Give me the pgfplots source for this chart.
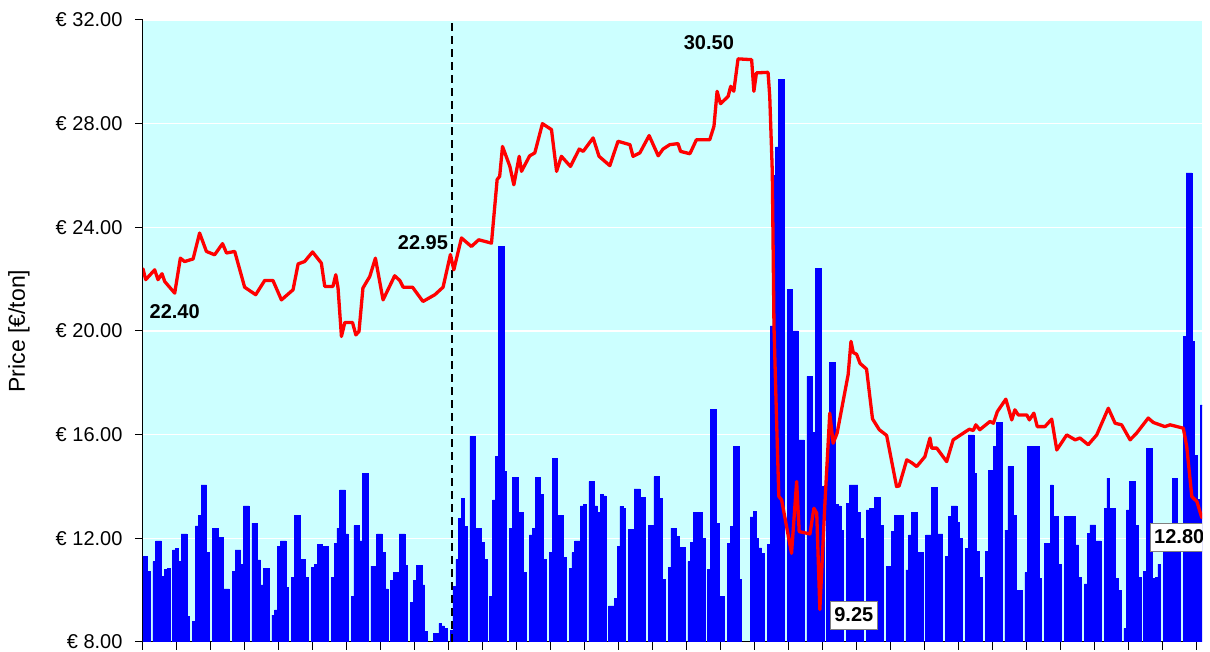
\documentclass[border=0pt]{standalone}
\usepackage{fontspec}
\setmainfont{Liberation Sans}
\usepackage{pgfplots}
\usepackage{pgfplotstable}
\pgfplotsset{compat=1.18}
\definecolor{bgcyan}{RGB}{204,255,255}
\definecolor{barblue}{RGB}{0,0,255}
\definecolor{linered}{RGB}{255,0,0}

\pgfplotstableread{
d v
0 11.30
1 11.30
2 10.72
4 11.10
5 11.90
6 11.90
7 10.52
8 10.81
9 10.84
11 11.55
12 11.62
13 11.10
14 12.17
15 12.17
16 8.98
18 8.79
19 12.48
20 12.87
21 14.06
22 14.06
23 11.45
25 12.39
26 12.39
27 12.04
28 12.04
29 10.05
30 10.05
32 10.72
33 11.55
34 11.55
35 11.00
36 13.25
37 13.25
39 12.59
40 12.59
41 11.17
42 10.20
43 10.84
44 10.84
46 9.04
47 9.24
48 11.68
49 11.90
50 11.90
51 10.11
53 10.48
54 12.87
55 12.87
56 11.19
57 11.19
58 10.48
60 10.87
61 11.00
62 11.78
63 11.78
64 11.68
65 11.68
67 10.48
68 11.81
69 12.39
70 13.87
71 13.87
72 12.17
74 9.75
75 12.49
76 12.49
77 11.90
78 14.49
79 14.49
81 10.93
82 10.93
83 12.17
84 12.17
85 11.45
86 10.05
88 10.39
89 10.69
90 10.69
91 12.17
92 12.17
93 10.95
95 9.52
96 10.39
97 10.95
98 10.95
99 10.20
100 8.40
103 8.33
104 8.33
105 8.72
106 8.62
107 8.53
109 8.46
110 10.16
111 11.19
112 12.77
113 13.55
114 12.45
116 15.93
117 15.93
118 12.39
119 12.39
120 11.84
121 11.19
123 9.75
124 13.48
125 15.16
126 23.25
127 23.25
128 14.58
130 12.39
131 14.36
132 14.36
133 13.00
134 13.00
135 10.69
137 12.13
138 12.39
139 14.36
140 14.36
141 13.68
142 11.19
144 11.46
145 15.07
146 15.07
147 12.88
148 12.88
149 11.26
151 10.84
152 11.45
153 11.90
154 11.90
155 13.25
156 13.32
158 14.19
159 14.19
160 13.25
161 13.00
162 13.71
163 13.64
165 9.39
166 9.39
167 9.69
168 11.68
169 13.23
170 13.16
172 12.35
173 12.35
174 13.91
175 13.91
176 13.59
177 13.59
179 12.49
180 12.49
181 14.38
182 14.38
183 13.55
184 10.42
186 10.88
187 12.39
188 12.39
189 12.07
190 11.66
191 11.66
193 11.10
194 11.84
195 13.00
196 13.00
197 13.00
198 12.00
200 10.81
201 16.96
202 16.96
203 12.59
204 9.75
205 9.75
207 11.81
208 12.45
209 15.54
210 15.54
211 10.42
215 12.83
216 13.05
217 12.00
218 11.63
219 11.43
221 11.76
222 20.20
223 26.00
224 27.10
225 29.70
226 29.70
228 21.60
229 21.60
230 20.00
231 20.00
232 15.80
233 15.80
235 18.25
236 18.25
237 16.10
238 22.40
239 22.40
240 14.00
242 15.00
243 18.79
244 18.79
245 13.30
246 13.25
247 12.32
249 13.35
250 14.06
251 14.06
252 14.06
253 13.00
254 12.00
256 13.10
257 13.16
258 13.16
259 13.58
260 13.58
261 12.50
263 10.91
264 10.91
265 12.26
266 12.87
267 12.87
268 12.87
270 10.78
271 12.13
272 12.99
273 12.99
274 11.45
275 11.45
277 12.13
278 12.13
279 13.96
280 13.96
281 12.17
282 12.17
284 11.30
285 12.84
286 13.25
287 13.25
288 12.61
289 12.00
291 11.62
292 15.99
293 15.99
294 14.51
295 11.49
296 10.50
298 11.49
299 14.62
300 14.62
301 15.54
302 16.47
303 16.47
305 12.32
306 14.77
307 14.77
308 12.90
309 10.00
310 10.00
312 10.68
313 15.54
314 15.54
315 15.54
316 15.54
317 10.46
319 11.81
320 11.81
321 14.06
322 12.84
323 12.84
324 11.00
326 12.84
327 12.84
328 12.84
329 12.84
330 11.75
331 10.50
333 10.24
334 12.20
335 12.52
336 12.52
337 11.90
338 11.90
340 13.16
341 14.32
342 13.16
343 13.16
344 10.46
345 10.00
347 8.53
348 13.10
349 14.19
350 14.19
351 12.50
352 10.50
354 10.72
355 15.48
356 15.48
357 10.46
358 10.50
359 11.00
361 11.70
362 11.70
363 11.70
364 14.32
365 14.32
366 11.50
368 19.80
369 26.10
370 26.10
371 19.60
372 15.20
373 13.50
374 17.15
}\bars

\pgfplotstableread{
d p
0 22.40
0.95 21.98
4.13 22.36
5.3 21.98
6.71 22.21
7.67 21.91
11.2 21.46
13.2 22.81
14.7 22.68
17.7 22.78
20.0 23.78
22.4 23.07
25.3 22.94
28.1 23.37
29.5 23.01
32.4 23.07
35.9 21.69
39.8 21.40
43.0 21.95
45.9 21.95
48.9 21.20
53.0 21.59
54.8 22.59
57.1 22.68
59.9 23.05
63.0 22.62
64.2 21.72
67.1 21.72
68.1 22.17
68.9 21.66
70.1 19.79
71.3 20.33
74.0 20.33
75.2 19.85
76.3 19.98
77.7 21.66
80.1 22.10
82.1 22.81
84.8 21.20
88.9 22.13
90.7 21.95
91.9 21.69
95.2 21.69
98.9 21.14
103.1 21.40
106.0 21.69
108.6 22.95
109.8 22.36
112.5 23.59
116.0 23.26
118.6 23.52
123.1 23.39
125.1 25.84
126.0 25.97
127.0 27.12
129.6 26.35
131.0 25.64
132.9 26.74
133.7 26.16
136.6 26.76
138.4 26.87
141.1 28.00
144.3 27.77
146.1 26.16
147.8 26.74
151.0 26.35
154.1 27.02
155.5 26.93
159.0 27.45
161.1 26.74
164.9 26.38
167.8 27.32
172.0 27.19
173.1 26.74
175.5 26.87
178.8 27.54
182.0 26.76
183.7 27.02
186.1 27.19
189.0 27.23
189.9 26.93
193.2 26.84
195.5 27.38
200.2 27.38
201.7 27.90
202.8 29.25
204.0 28.77
206.7 29.05
207.6 29.44
208.7 29.25
210.2 30.50
215.0 30.47
215.8 29.25
216.7 29.96
220.8 29.98
221.4 29.05
222.3 26.15
222.9 20.16
223.8 16.61
224.6 13.62
225.6 13.48
229.1 11.42
230.9 14.19
231.8 12.26
235.6 12.17
237.0 13.16
238.0 12.97
239.1 9.25
240.9 13.37
242.6 16.83
243.8 15.67
245.2 16.06
249.1 18.32
250.1 19.60
250.9 19.17
252.1 19.10
253.3 18.75
255.6 18.53
257.7 16.61
260.1 16.19
262.7 15.97
266.2 14.00
267.1 14.02
269.8 15.03
271.5 14.92
273.3 14.77
276.2 15.15
278.0 15.87
278.6 15.48
280.4 15.48
283.9 14.96
286.2 15.80
289.8 16.06
291.9 16.21
293.3 16.16
294.2 16.38
295.6 16.19
299.2 16.51
300.4 16.44
301.8 16.89
304.8 17.37
306.9 16.57
308.0 16.96
309.2 16.76
312.2 16.76
313.1 16.57
314.7 16.83
315.9 16.31
318.6 16.31
321.0 16.60
322.8 15.41
326.3 15.99
329.3 15.80
331.0 15.87
333.9 15.61
336.9 15.99
341.0 17.02
343.4 16.44
345.7 16.38
348.7 15.80
351.0 16.06
355.1 16.64
356.9 16.47
361.0 16.31
362.8 16.38
367.5 16.25
368.7 15.54
370.5 13.61
372.3 13.42
374.0 12.80
}\price

\begin{document}
\begin{tikzpicture}
\useasboundingbox (-143pt,-10pt) rectangle (1067pt,642pt);
\begin{axis}[
  at={(0pt,0pt)}, anchor=south west,
  scale only axis, width=1059pt, height=622pt,
  xmin=0, xmax=374.1, ymin=8, ymax=32,
  axis x line*=bottom, axis y line*=left,
  axis line style={black, line width=1pt},
  axis background/.style={fill=bgcyan},
  ytick={8,12,16,20,24,28,32},
  yticklabels={€ 8.00,€ 12.00,€ 16.00,€ 20.00,€ 24.00,€ 28.00,€ 32.00},
  xtick={0,12,...,372}, xticklabels={},
  tick align=outside, major tick length=8pt,
  tick style={black, line width=1pt},
  ymajorgrids, grid style={white, line width=1.5pt},
  tick label style={font=\fontsize{20}{24}\selectfont},
  yticklabel style={xshift=-9pt},
  ylabel={Price [€/ton]},
  ylabel style={at={(axis description cs:-0.1171,0.5)}, anchor=center, font=\fontsize{23}{27}\selectfont},
]
\addplot[ybar, bar width=1, bar shift=0pt, fill=barblue, draw=barblue, line width=0.6pt] table[x=d, y=v] {\bars};
\addplot[black, line width=1.3pt, dash pattern=on 8pt off 5pt] coordinates {(109.2,8) (109.2,32)};
\addplot[linered, line width=3.3pt, line join=round, line cap=round] table[x=d, y=p] {\price};
\node[font=\bfseries\fontsize{20}{24}\selectfont] at (axis cs:11.2,20.74) {22.40};
\node[font=\bfseries\fontsize{20}{24}\selectfont] at (axis cs:98.9,23.42) {22.95};
\node[font=\bfseries\fontsize{20}{24}\selectfont] at (axis cs:199.9,31.11) {30.50};
\node[font=\bfseries\fontsize{20}{24}\selectfont, fill=white, draw=black!50, line width=0.6pt, inner xsep=4pt, inner ysep=7pt] at (axis cs:251.1,9.04) {9.25};
\begin{scope}
\clip (rel axis cs:0,0) rectangle (rel axis cs:1,1);
\node[font=\bfseries\fontsize{20}{24}\selectfont, fill=white, draw=black!50, line width=0.6pt, inner xsep=4pt, inner ysep=7pt, anchor=west] at (axis cs:355.7,12.05) {12.80};
\end{scope}
\end{axis}
\end{tikzpicture}
\end{document}
